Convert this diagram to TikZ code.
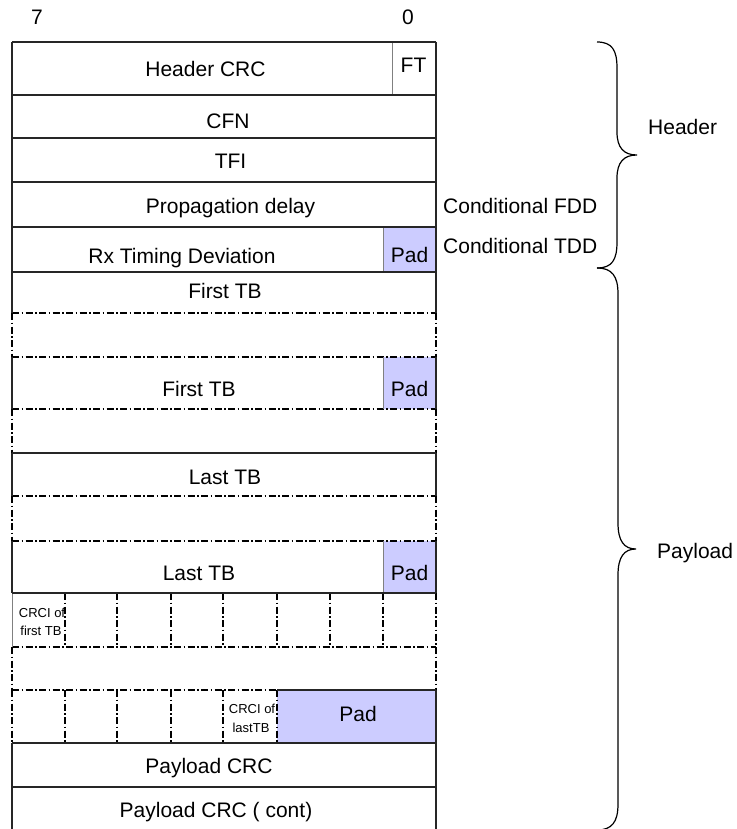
\documentclass[tikz,border=0pt]{standalone}
\usepackage{fontspec}
\setmainfont{Liberation Sans}
\definecolor{padcol}{RGB}{204,204,255}
\begin{document}
\begin{tikzpicture}[x=1pt,y=-1pt,
  solidline/.style={line width=1.1pt, draw=black!85},
  thinline/.style={line width=0.8pt, draw=black!50},
  dashdotline/.style={line width=1.3pt, draw=black, dash pattern=on 7pt off 2.5pt on 1.5pt off 2.5pt},
  lbl/.style={font=\fontsize{21}{24}\selectfont, inner sep=0pt, anchor=base},
  sidelbl/.style={font=\fontsize{21}{24}\selectfont, inner sep=0pt, anchor=base west},
  small/.style={font=\fontsize{13}{18}\selectfont, inner sep=0pt, anchor=base},
  bracestyle/.style={line width=1.2pt, draw=black}
]
\useasboundingbox (0,0) rectangle (736,829);

% pad fills
\fill[padcol] (383,227) rectangle (436,272);
\fill[padcol] (383,357) rectangle (436,409);
\fill[padcol] (383,541) rectangle (436,593);
\fill[padcol] (277,690) rectangle (436,743);

% dash-dot lines
\foreach \y in {313,357,409,496,541,647} \draw[dashdotline] (12,\y) -- (436,\y);
\draw[dashdotline] (12,690) -- (277,690);
\foreach \a/\b in {313/357,409/453,496/541,647/690} {
  \draw[dashdotline] (12,\a) -- (12,\b);
  \draw[dashdotline] (436,\a) -- (436,\b);
}
\draw[dashdotline] (436,593) -- (436,647);
\draw[dashdotline] (12,690) -- (12,743);
\foreach \x in {65,117,171,223,277,330,383} \draw[dashdotline] (\x,593) -- (\x,647);
\foreach \x in {65,117,171,223,277} \draw[dashdotline] (\x,690) -- (\x,743);

% thin inner borders
\draw[thinline] (392,42) -- (392,95);
\draw[thinline] (383,227) -- (383,272);
\draw[thinline] (383,357) -- (383,409);
\draw[thinline] (383,541) -- (383,593);
\draw[thinline] (12,593) -- (12,647);

% solid lines
\foreach \y in {42,95,138,182,227,272,453,593,743,787} \draw[solidline] (12,\y) -- (436,\y);
\draw[solidline] (277,690) -- (436,690);
\foreach \a/\b in {42/313,357/409,453/496,541/593,743/829} {
  \draw[solidline] (12,\a) -- (12,\b);
  \draw[solidline] (436,\a) -- (436,\b);
}
\draw[solidline] (436,690) -- (436,743);

% bit numbers
\node[lbl] (b7) at (37,25) {7};
\node[lbl] (b0) at (408,25) {0};

% field labels
\node[lbl] (hcrc) at (205.5,77) {Header CRC};
\node[lbl] (ft) at (413.5,73) {FT};
\node[lbl] (cfn) at (228,129) {CFN};
\node[lbl] (tfi) at (230.5,169) {TFI};
\node[lbl] (prop) at (230.5,213) {Propagation delay};
\node[lbl] (rx) at (182,263) {Rx Timing Deviation};
\node[lbl] (pad1) at (409.5,262) {Pad};
\node[lbl] (ftb1) at (225,298) {First TB};
\node[lbl] (ftb2) at (199,396) {First TB};
\node[lbl] (pad2) at (409.5,396) {Pad};
\node[lbl] (ltb1) at (225,484) {Last TB};
\node[lbl] (ltb2) at (199,580) {Last TB};
\node[lbl] (pad3) at (409.5,580) {Pad};
\node[small] (crcf1) at (42,617) {CRCI of};
\node[small] (crcf2) at (41,635) {first TB};
\node[small] (crcl1) at (252,713) {CRCI of};
\node[small] (crcl2) at (251,732) {lastTB};
\node[lbl] (pad4) at (358,721) {Pad};
\node[lbl] (pcrc) at (209,773) {Payload CRC};
\node[lbl] (pcrc2) at (216,817) {Payload CRC ( cont)};

% side labels
\node[sidelbl] (cfdd) at (443,213) {Conditional FDD};
\node[sidelbl] (ctdd) at (443,253) {Conditional TDD};
\node[sidelbl] (hdr) at (648,135) {Header};
\node[sidelbl] (pay) at (657,558) {Payload};

% braces
\coordinate (hb1) at (597,42);
\coordinate (hbt) at (637,155);
\coordinate (hb2) at (597,268);
\draw[bracestyle] (hb1) .. controls (612,42) and (617,50) .. (617,68) -- (617,132)
  .. controls (617,148) and (624,155) .. (hbt)
  .. controls (624,155) and (617,162) .. (617,178) -- (617,242)
  .. controls (617,260) and (612,268) .. (hb2);
\coordinate (pb1) at (597,268);
\coordinate (pbt) at (636,549);
\coordinate (pb2) at (597,830);
\draw[bracestyle] (pb1) .. controls (612,268) and (618,276) .. (618,294) -- (618,523)
  .. controls (618,541) and (624,549) .. (pbt)
  .. controls (624,549) and (618,557) .. (618,575) -- (618,804)
  .. controls (618,822) and (612,830) .. (pb2);
\end{tikzpicture}
\end{document}
